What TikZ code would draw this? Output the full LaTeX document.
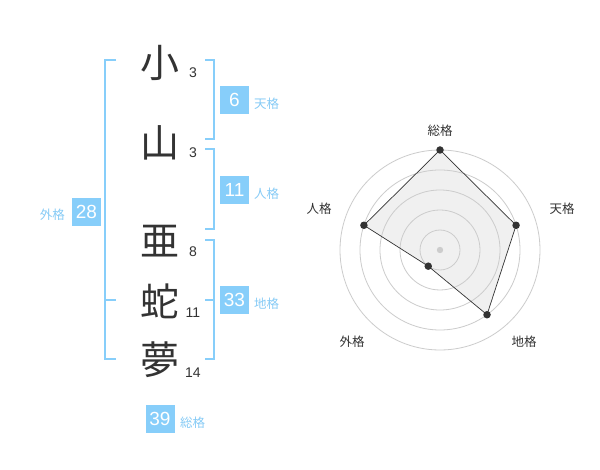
\documentclass[tikz,border=0pt]{standalone}
\usepackage{fontspec}
\setmainfont{Liberation Sans}
\newfontfamily\jp{Noto Sans CJK JP}
\definecolor{kbox}{HTML}{87CEFA}
\definecolor{klabel}{HTML}{86CBF6}
\definecolor{kdark}{HTML}{333333}
\definecolor{kgrid}{HTML}{CCCCCC}
\definecolor{kfill}{HTML}{F0F0F0}
\begin{document}
\begin{tikzpicture}[x=1pt,y=-1pt,
  bigchar/.style={inner sep=0pt, font=\jp\fontsize{39}{39}\selectfont, text=kdark},
  stroke/.style={inner sep=0pt, font=\fontsize{14}{14}\selectfont, text=kdark},
  numbox/.style={fill=kbox, text=white, minimum width=29pt, minimum height=28.5pt, inner sep=0pt, font=\fontsize{19}{19}\selectfont},
  kaku/.style={inner sep=0pt, text=klabel, font=\jp\fontsize{12.5}{12.5}\selectfont},
  bracket/.style={draw=kbox, line width=2pt},
  grid/.style={draw=kgrid, line width=0.8pt},
  axlabel/.style={inner sep=0pt, text=kdark, font=\jp\fontsize{12.5}{12.5}\selectfont},
  pt/.style={circle, fill=kdark, inner sep=0pt, minimum size=7.5pt}
]
\useasboundingbox (0,0) rectangle (600,470);
\fill[white] (0,0) rectangle (600,470);

% characters
\node[bigchar] (c1) at (160,63) {小};
\node[bigchar] (c2) at (160,143) {山};
\node[bigchar] (c3) at (160,241) {亜};
\node[bigchar] (c4) at (160,301) {蛇};
\node[bigchar] (c5) at (160,360) {夢};
\node[stroke] (s1) at (193,73) {3};
\node[stroke] (s2) at (193,153) {3};
\node[stroke] (s3) at (193,252) {8};
\node[stroke] (s4) at (193,313) {11};
\node[stroke] (s5) at (193,373) {14};

% brackets
\draw[bracket] (116,60) -- (105,60) -- (105,359) -- (116,359);
\draw[bracket] (105,300) -- (116,300);
\draw[bracket] (205,60) -- (214,60) -- (214,139) -- (205,139);
\draw[bracket] (205,149) -- (214,149) -- (214,229) -- (205,229);
\draw[bracket] (205,240) -- (214,240) -- (214,359) -- (205,359);
\draw[bracket] (205,300) -- (214,300);

% boxes
\node[numbox] (ten) at (234.5,100) {6};
\node[kaku, anchor=west] (tenl) at (254,104) {天格};
\node[numbox] (jin) at (234.5,190) {11};
\node[kaku, anchor=west] (jinl) at (254,194) {人格};
\node[numbox] (chi) at (234.5,300) {33};
\node[kaku, anchor=west] (chil) at (254,304) {地格};
\node[numbox] (gai) at (86.5,212) {28};
\node[kaku, anchor=east] (gail) at (65,215) {外格};
\node[numbox] (sou) at (160,419) {39};
\node[kaku, anchor=west] (soul) at (180,423) {総格};

% radar
\coordinate (O) at (440,250);
\path (O) ++(-90:100) coordinate (pS);
\path (O) ++(-18:80) coordinate (pT);
\path (O) ++(54:80) coordinate (pC);
\path (O) ++(126:20) coordinate (pG);
\path (O) ++(198:80) coordinate (pJ);
\fill[kfill] (pS) -- (pT) -- (pC) -- (pG) -- (pJ) -- cycle;
\foreach \r in {20,40,60,80,100} \draw[grid] (O) circle[radius=\r];
\draw[draw=kdark, line width=0.7pt, line join=round] (pS) -- (pT) -- (pC) -- (pG) -- (pJ) -- cycle;
\fill[kgrid] (O) circle[radius=3.2];
\foreach \p in {pS,pT,pC,pG,pJ} \node[pt] at (\p) {};
\node[axlabel] (lS) at (440,131) {総格};
\node[axlabel] (lT) at (562,209) {天格};
\node[axlabel] (lJ) at (319,209) {人格};
\node[axlabel] (lG) at (352,342) {外格};
\node[axlabel] (lC) at (524,342) {地格};
\end{tikzpicture}
\end{document}
